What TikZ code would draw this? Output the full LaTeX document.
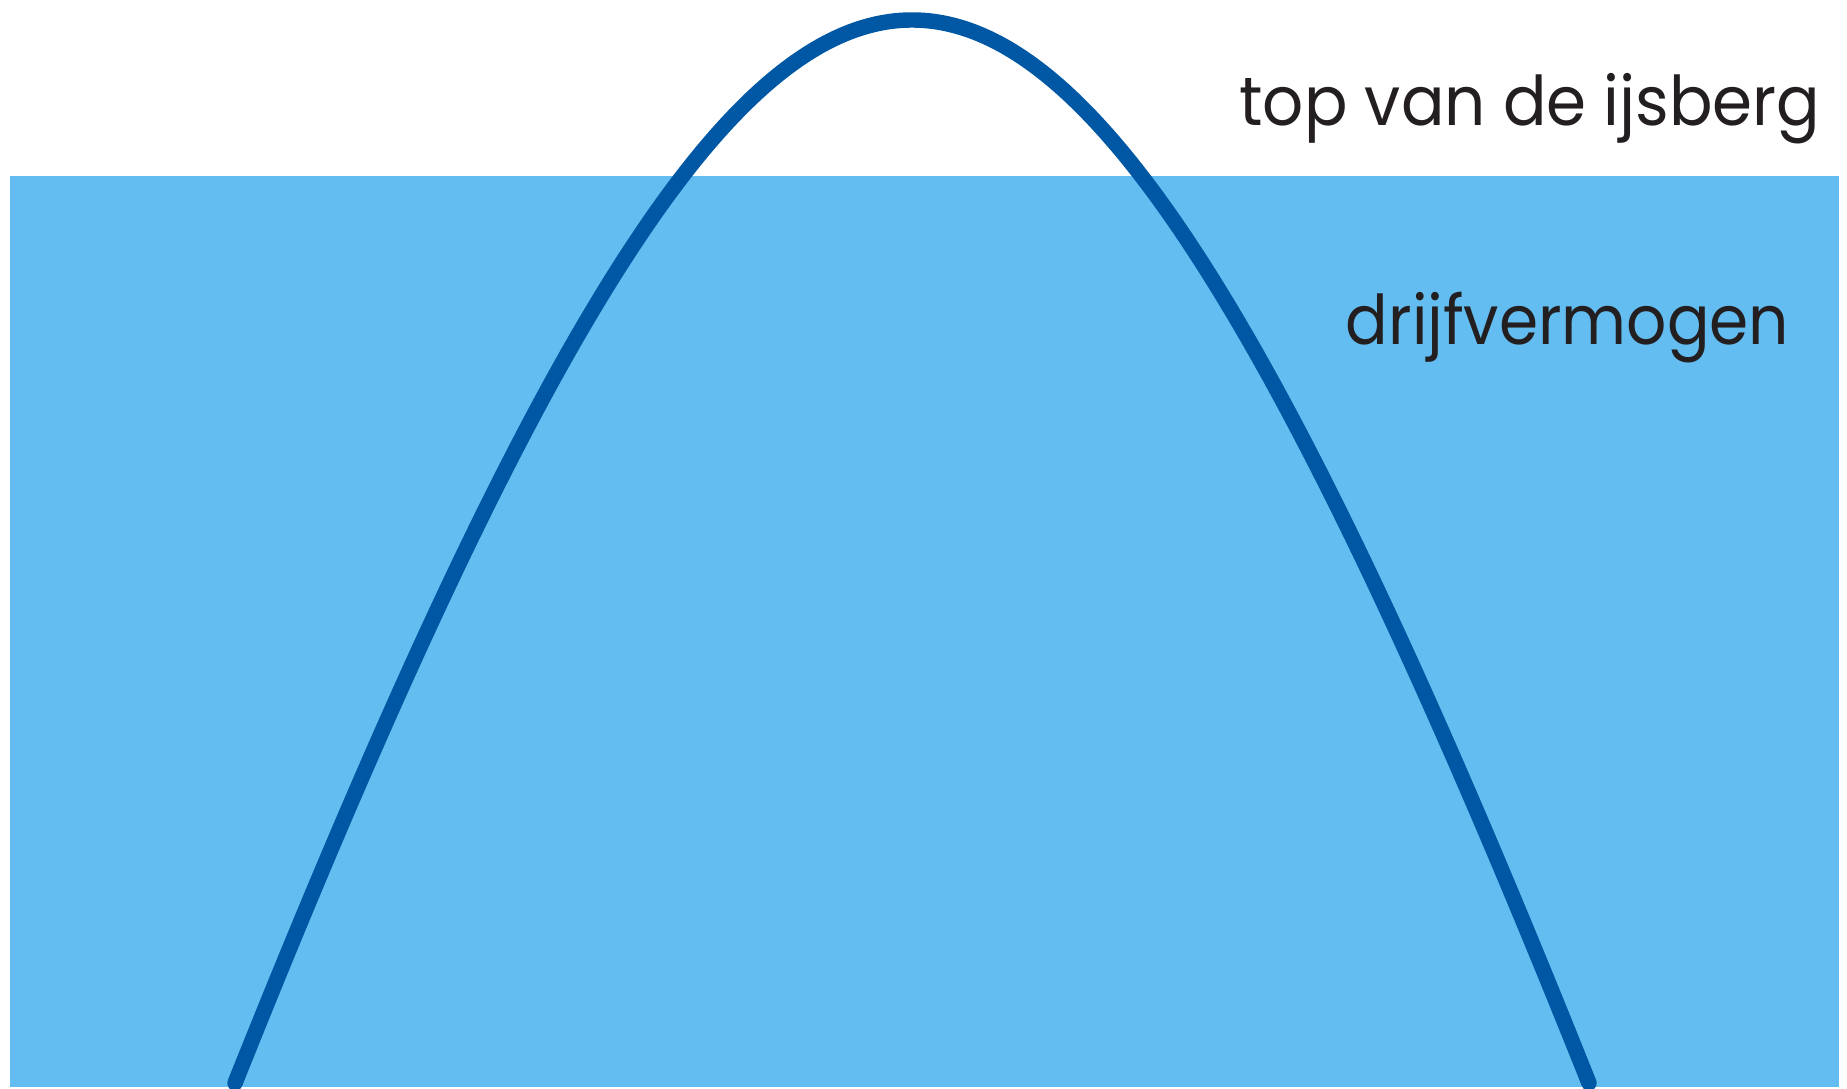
\documentclass[tikz,border=0pt]{standalone}
\usepackage{fontspec}
\setmainfont{Poppins}
\definecolor{water}{RGB}{99,189,240}
\definecolor{berg}{RGB}{0,88,165}
\definecolor{ink}{RGB}{35,31,32}
\begin{document}
\begin{tikzpicture}[x=1cm,y=-1cm,
  label/.style={text=ink,font=\fontsize{19.5}{22}\selectfont,inner sep=0pt},
  bergline/.style={draw=berg,line width=4.4pt,line cap=round}]
\useasboundingbox (0,0) rectangle (18.47,10.89);
\fill[water] (0.10,1.76) rectangle (18.39,10.87);
\coordinate (left) at (2.35,10.83);
\coordinate (right) at (15.89,10.83);
\draw[bergline] plot[domain=-6.77:6.77,samples=200,smooth] ({9.12+\x},{0.20+3.112*(sqrt(25+\x*\x)-5)});
\node[label,anchor=base east] (top) at (18.21,1.26) {\scalebox{0.94}[1]{top van de ijsberg}};
\node[label,anchor=base east] (drijf) at (17.90,3.45) {\scalebox{0.92}[1]{drijfvermogen}};
\end{tikzpicture}
\end{document}
